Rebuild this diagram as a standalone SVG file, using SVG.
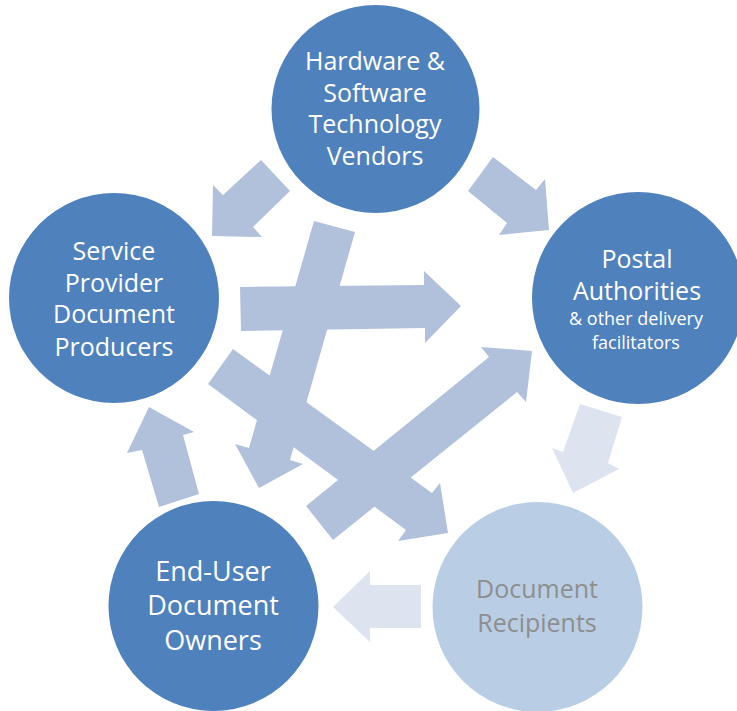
<svg xmlns="http://www.w3.org/2000/svg" width="737" height="711" viewBox="0 0 737 711">
<style>
.dark{fill:#4f81bd}
.light{fill:#b9cde5}
.arr{fill:#b1c1dc}
.arr2{fill:#dde4f0}
text{font-family:"Open Sans","Noto Sans","Liberation Sans",sans-serif;text-anchor:middle;fill:#ffffff}
.t{font-size:25px}
.s{font-size:18px}
.g{fill:#8e8e8e}
</style>
<rect width="737" height="711" fill="#ffffff"/>
<g id="connectors">
<polygon class="arr" points="212,236 213,185 223,195 261,160 290,191 253,227 262,237"/>
<polygon class="arr" points="493,157 536,190 545,179 549,230 499,235 507,223 468,191"/>
<polygon class="arr" points="240,287 424,285 424,271 461,306 425,343 425,328 241,331"/>
<polygon class="arr" points="314,221 355,232 290,460 303,464 259,488 235,444 249,448"/>
<polygon class="arr" points="233,349 432,493 440,483 448,533 398,541 406,530 208,384"/>
<polygon class="arr" points="306,506 489,357 481,347 532,351 526,402 517,392 333,540"/>
<polygon class="arr2" points="580,404 622,417 608,463 619,469 573,493 552,448 563,452"/>
<polygon class="arr2" points="333,607 370,571 370,585 421,585 421,628 370,628 370,642"/>
<polygon class="arr" points="149,407 194,432 183,435 199,494 159,507 142,450 127,453"/>
</g>
<g id="vendors">
<circle class="dark" cx="375.5" cy="109" r="104"/>
<text class="t" x="375" y="70">Hardware &amp;</text>
<text class="t" x="375" y="102">Software</text>
<text class="t" x="375" y="133">Technology</text>
<text class="t" x="375" y="165">Vendors</text>
</g>
<g id="producers">
<circle class="dark" cx="114" cy="298" r="105"/>
<text class="t" x="114" y="260">Service</text>
<text class="t" x="114" y="292">Provider</text>
<text class="t" x="114" y="323">Document</text>
<text class="t" x="114" y="356">Producers</text>
</g>
<g id="postal">
<circle class="dark" cx="638" cy="298" r="106"/>
<text class="t" x="637" y="268">Postal</text>
<text class="t" x="637" y="300">Authorities</text>
<text class="s" x="636" y="325">&amp; other delivery</text>
<text class="s" x="636" y="349">facilitators</text>
</g>
<g id="owners">
<circle class="dark" cx="213.5" cy="606" r="105"/>
<text class="t" x="213" y="581" style="font-size:27px">End-User</text>
<text class="t" x="213" y="615" style="font-size:27px">Document</text>
<text class="t" x="213" y="650" style="font-size:27px">Owners</text>
</g>
<g id="recipients">
<circle class="light" cx="537.5" cy="607" r="105"/>
<text class="t g" x="537" y="598">Document</text>
<text class="t g" x="537" y="632">Recipients</text>
</g>
</svg>
